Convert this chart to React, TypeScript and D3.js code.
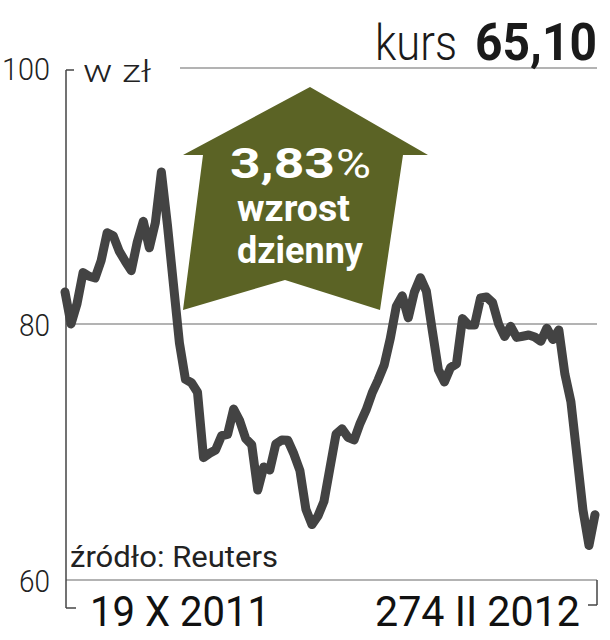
import * as d3 from "d3";

// kurs akcji, sesje od 19 X 2011 do 27 II 2012 (zł)
const prices = [
  82.5, 80.0, 81.59, 84.02, 83.73, 83.6, 84.95, 87.13, 86.9, 85.69,
  84.9, 84.17, 86.41, 88.02, 85.95, 87.91, 91.88, 87.77, 83.13, 78.52,
  75.67, 75.41, 74.67, 69.56, 69.9, 70.16, 71.27, 71.38, 73.35, 72.45,
  71.04, 70.57, 67.03, 68.83, 68.59, 70.63, 70.94, 70.91, 69.85, 68.56,
  65.52, 64.33, 65.0, 66.14, 68.77, 71.39, 71.81, 71.15, 70.94, 72.24,
  73.29, 74.61, 75.64, 76.8, 78.84, 81.37, 82.2, 80.49, 82.48, 83.62,
  82.57, 79.44, 76.42, 75.47, 76.59, 76.88, 80.42, 79.92, 79.92, 82.03,
  82.11, 81.67, 79.99, 79.03, 79.82, 78.95, 79.04, 79.14, 78.98, 78.65,
  79.67, 78.79, 79.53, 76.09, 73.92, 69.73, 65.47, 62.7, 65.1,
];
const yTicks = [60, 80, 100];
const dateLabels = ["19 X 2011", "274 II 2012"];
const lastPrice = "65,10";
const change = "3,83";

const W = 610;
const H = 640;
const margin = { left: 65, right: 15, top: 68, bottom: 60 };

const font = "Roboto, 'Liberation Sans', sans-serif";

export default function App() {
  const x = d3.scaleLinear().domain([0, prices.length - 1]).range([margin.left, W - margin.right]);
  const y = d3.scaleLinear().domain([60, 100]).range([H - margin.bottom, margin.top]);

  const line = d3
    .line<number>()
    .x((_, i) => x(i))
    .y((d) => y(d));

  const x0 = margin.left + 1;
  const x1 = W - 13;
  const yBottom = y(60);

  return (
    <svg width={W} height={H} style={{ position: "absolute", left: 0, top: 0, background: "#fff" }}>
      {/* linie siatki */}
      {yTicks.map((t) => (
        <line
          key={t}
          x1={t === 100 ? 180 : x0}
          x2={x1}
          y1={y(t)}
          y2={y(t)}
          stroke="#9a9a9a"
          strokeWidth={1.5}
        />
      ))}
      {/* oś pionowa i klamry */}
      <line x1={x0} x2={x0} y1={y(100) + 2} y2={yBottom + 28} stroke="#444" strokeWidth={1.5} />
      <line x1={x0} x2={x0 + 8} y1={y(100) + 2} y2={y(100) + 2} stroke="#444" strokeWidth={1.5} />
      <line x1={x0} x2={x0 + 10} y1={yBottom + 28} y2={yBottom + 28} stroke="#444" strokeWidth={1.5} />
      <line x1={x1} x2={x1} y1={yBottom} y2={yBottom + 25} stroke="#444" strokeWidth={1.5} />
      <line x1={x1 - 9} x2={x1} y1={yBottom + 25} y2={yBottom + 25} stroke="#444" strokeWidth={1.5} />

      {yTicks.map((t) => (
        <text
          key={t}
          x={50}
          y={y(t) + 12}
          textAnchor="end"
          fontFamily={font}
          fontWeight={300}
          fontSize={32}
          fill="#222"
          textLength={t === 100 ? 48 : 31}
          lengthAdjust="spacingAndGlyphs"
        >
          {t}
        </text>
      ))}
      <text x={83} y={82} fontFamily={font} fontWeight={300} fontSize={32} fill="#222" textLength={68} lengthAdjust="spacingAndGlyphs">
        w zł
      </text>

      {/* kurs */}
      <text x={375} y={60} fontFamily={font} fontWeight={300} fontSize={50} fill="#1a1a1a" textLength={82} lengthAdjust="spacingAndGlyphs">
        kurs
      </text>
      <text x={475} y={60} fontFamily={font} fontWeight={700} fontSize={52} fill="#1a1a1a" textLength={122} lengthAdjust="spacingAndGlyphs">
        {lastPrice}
      </text>

      {/* strzałka */}
      <polygon
        points="183,155 310,87 428,155 403,155 380,310 285,280 183,310 203,155"
        fill="#5b6325"
      />
      <text x={230} y={178} fontFamily={font} fontWeight={700} fontSize={42} fill="#fff" textLength={105} lengthAdjust="spacingAndGlyphs">
        {change}
      </text>
      <text x={336} y={178} fontFamily={font} fontWeight={400} fontSize={40} fill="#fff" textLength={35} lengthAdjust="spacingAndGlyphs">
        %
      </text>
      <text x={237} y={221} fontFamily={font} fontWeight={700} fontSize={37} fill="#fff" textLength={113} lengthAdjust="spacingAndGlyphs">
        wzrost
      </text>
      <text x={237} y={263} fontFamily={font} fontWeight={700} fontSize={37} fill="#fff" textLength={126} lengthAdjust="spacingAndGlyphs">
        dzienny
      </text>

      {/* wykres */}
      <path
        d={line(prices) ?? ""}
        fill="none"
        stroke="#434343"
        strokeWidth={9}
        strokeLinejoin="round"
        strokeLinecap="round"
      />

      <text x={70} y={567} fontFamily={font} fontWeight={400} fontSize={30} fill="#222" textLength={208} lengthAdjust="spacingAndGlyphs">
        źródło: Reuters
      </text>

      <text x={90} y={626} fontFamily={font} fontWeight={400} fontSize={42} fill="#111" textLength={180} lengthAdjust="spacingAndGlyphs">
        {dateLabels[0]}
      </text>
      <text x={375} y={626} fontFamily={font} fontWeight={400} fontSize={42} fill="#111" textLength={205} lengthAdjust="spacingAndGlyphs">
        {dateLabels[1]}
      </text>
    </svg>
  );
}
